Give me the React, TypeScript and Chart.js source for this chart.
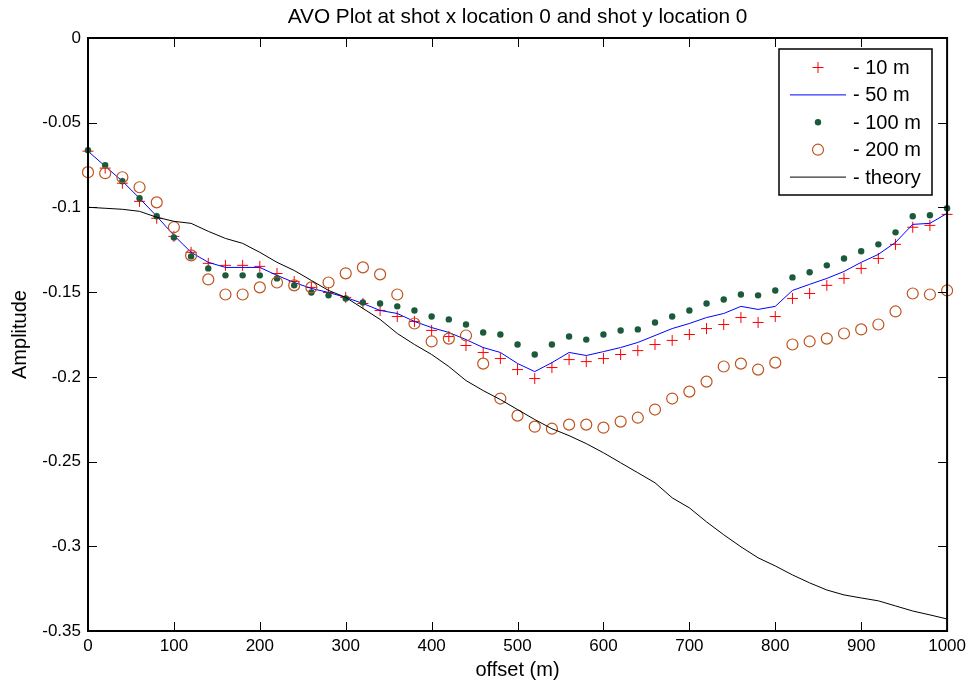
import { useEffect, useRef } from "react";
import { Chart, registerables } from "chart.js";

Chart.register(...registerables);

const offsets = [0, 20, 40, 60, 80, 100, 120, 140, 160, 180, 200, 220, 240, 260, 280, 300, 320, 340, 360, 380, 400, 420, 440, 460, 480, 500, 520, 540, 560, 580, 600, 620, 640, 660, 680, 700, 720, 740, 760, 780, 800, 820, 840, 860, 880, 900, 920, 940, 960, 980, 1000];

const amp10 = [-0.0668, -0.0768, -0.0857, -0.0964, -0.1064, -0.1171, -0.1265, -0.1330, -0.1342, -0.1342, -0.1348, -0.1390, -0.1437, -0.1472, -0.1502, -0.1531, -0.1567, -0.1608, -0.1644, -0.1673, -0.1726, -0.1762, -0.1815, -0.1856, -0.1892, -0.1957, -0.2010, -0.1945, -0.1898, -0.1910, -0.1892, -0.1868, -0.1845, -0.1809, -0.1785, -0.1750, -0.1715, -0.1691, -0.1650, -0.1679, -0.1644, -0.1537, -0.1508, -0.1460, -0.1419, -0.1360, -0.1301, -0.1218, -0.1117, -0.1106, -0.1041];

const amp50 = [-0.0668, -0.0757, -0.0845, -0.0946, -0.1052, -0.1165, -0.1265, -0.1324, -0.1354, -0.1354, -0.1354, -0.1401, -0.1443, -0.1478, -0.1502, -0.1531, -0.1567, -0.1608, -0.1626, -0.1673, -0.1709, -0.1738, -0.1780, -0.1827, -0.1856, -0.1921, -0.1969, -0.1916, -0.1856, -0.1874, -0.1851, -0.1827, -0.1797, -0.1756, -0.1715, -0.1685, -0.1650, -0.1626, -0.1584, -0.1602, -0.1584, -0.1490, -0.1454, -0.1419, -0.1378, -0.1324, -0.1277, -0.1206, -0.1100, -0.1094, -0.1035];

const amp100 = [-0.0662, -0.0751, -0.0845, -0.0946, -0.1052, -0.1177, -0.1289, -0.1360, -0.1401, -0.1401, -0.1401, -0.1419, -0.1460, -0.1502, -0.1519, -0.1537, -0.1561, -0.1567, -0.1584, -0.1608, -0.1644, -0.1661, -0.1691, -0.1738, -0.1750, -0.1809, -0.1868, -0.1809, -0.1762, -0.1780, -0.1750, -0.1726, -0.1720, -0.1679, -0.1644, -0.1608, -0.1567, -0.1543, -0.1514, -0.1519, -0.1490, -0.1413, -0.1383, -0.1342, -0.1301, -0.1259, -0.1218, -0.1147, -0.1052, -0.1046, -0.1005];

const amp200 = [-0.0792, -0.0798, -0.0822, -0.0881, -0.0970, -0.1117, -0.1283, -0.1425, -0.1514, -0.1514, -0.1472, -0.1443, -0.1460, -0.1472, -0.1443, -0.1389, -0.1354, -0.1395, -0.1514, -0.1685, -0.1791, -0.1774, -0.1756, -0.1922, -0.2128, -0.2229, -0.2294, -0.2306, -0.2282, -0.2282, -0.2300, -0.2264, -0.2241, -0.2193, -0.2128, -0.2087, -0.2028, -0.1939, -0.1922, -0.1957, -0.1916, -0.1809, -0.1791, -0.1774, -0.1744, -0.1720, -0.1691, -0.1614, -0.1508, -0.1514, -0.1490];

const ampTheory = [-0.0999, -0.1005, -0.1011, -0.1023, -0.1058, -0.1082, -0.1094, -0.1141, -0.1183, -0.1212, -0.1265, -0.1324, -0.1372, -0.1431, -0.1490, -0.1531, -0.1596, -0.1661, -0.1744, -0.1809, -0.1868, -0.1939, -0.2022, -0.2081, -0.2134, -0.2193, -0.2252, -0.2306, -0.2347, -0.2394, -0.2448, -0.2507, -0.2566, -0.2625, -0.2714, -0.2773, -0.2856, -0.2932, -0.3003, -0.3068, -0.3116, -0.3169, -0.3216, -0.3258, -0.3287, -0.3305, -0.3322, -0.3352, -0.3382, -0.3405, -0.3429];

const xTicks = [0, 100, 200, 300, 400, 500, 600, 700, 800, 900, 1000];
const yTicks = [0, -0.05, -0.1, -0.15, -0.2, -0.25, -0.3, -0.35];

const seriesLabels = ["- 10 m", "- 50 m", "- 100 m", "- 200 m", "- theory"];
const titleText = "AVO Plot at shot x location 0 and shot y location 0";
const xTitle = "offset (m)";
const yTitle = "Amplitude";

const FONT = "'Liberation Sans', Arial, sans-serif";
const RED = "#ff0000";
const BLUE = "#0000ff";
const GREEN = "#1b5a3a";
const ORANGE = "#c0531d";
const BLACK = "#000000";

const toXY = (ys: number[]) => offsets.map((x, i) => ({ x, y: ys[i] }));

const matlabPlugin = {
  id: "matlabBox",
  afterDatasetsDraw(chart: any) {
    const { ctx, chartArea, scales } = chart;
    const { left, right, top, bottom } = chartArea;
    const xs = scales.x;
    const ys = scales.y;
    ctx.save();
    ctx.strokeStyle = BLACK;
    // ticks (inward)
    ctx.lineWidth = 1;
    const tl = 9;
    ctx.beginPath();
    xTicks.forEach((v) => {
      const p = Math.round(xs.getPixelForValue(v)) + 0.5;
      ctx.moveTo(p, bottom);
      ctx.lineTo(p, bottom - tl);
      ctx.moveTo(p, top);
      ctx.lineTo(p, top + tl);
    });
    yTicks.forEach((v) => {
      const p = Math.round(ys.getPixelForValue(v)) + 0.5;
      ctx.moveTo(left, p);
      ctx.lineTo(left + tl, p);
      ctx.moveTo(right, p);
      ctx.lineTo(right - tl, p);
    });
    ctx.stroke();
    // box
    ctx.lineWidth = 2;
    ctx.strokeRect(left, top, right - left, bottom - top);

    // title centred over the plot box
    ctx.fillStyle = BLACK;
    ctx.font = `20.8px ${FONT}`;
    ctx.textAlign = "center";
    ctx.textBaseline = "middle";
    ctx.fillText(titleText, (left + right) / 2, 17);

    // legend
    const lx = 779, ly = 49, lw = 153, lh = 146;
    ctx.fillStyle = "#ffffff";
    ctx.fillRect(lx, ly, lw, lh);
    ctx.lineWidth = 1.5;
    ctx.strokeStyle = BLACK;
    ctx.strokeRect(lx, ly, lw, lh);
    const rows = [67.5, 94.9, 122.3, 149.7, 177.1];
    const mx = 818;
    ctx.font = `20px ${FONT}`;
    ctx.textBaseline = "middle";
    ctx.textAlign = "left";
    rows.forEach((ry, i) => {
      ctx.save();
      if (i === 0) {
        ctx.strokeStyle = RED;
        ctx.lineWidth = 1;
        ctx.beginPath();
        ctx.moveTo(mx - 5.5, ry);
        ctx.lineTo(mx + 5.5, ry);
        ctx.moveTo(mx, ry - 5.5);
        ctx.lineTo(mx, ry + 5.5);
        ctx.stroke();
      } else if (i === 1 || i === 4) {
        ctx.strokeStyle = i === 1 ? BLUE : BLACK;
        ctx.lineWidth = 1;
        ctx.beginPath();
        ctx.moveTo(790, ry);
        ctx.lineTo(846, ry);
        ctx.stroke();
      } else if (i === 2) {
        ctx.fillStyle = GREEN;
        ctx.beginPath();
        ctx.arc(mx, ry, 3.2, 0, Math.PI * 2);
        ctx.fill();
      } else {
        ctx.strokeStyle = ORANGE;
        ctx.lineWidth = 1.2;
        ctx.beginPath();
        ctx.arc(mx, ry, 5.5, 0, Math.PI * 2);
        ctx.stroke();
      }
      ctx.restore();
      ctx.fillStyle = BLACK;
      ctx.fillText(seriesLabels[i], 853, ry + 1);
    });
    ctx.restore();
  },
};

export default function App() {
  const ref = useRef<HTMLCanvasElement | null>(null);

  useEffect(() => {
    if (!ref.current) return;
    const tickFont = { family: FONT, size: 17 };
    const chart = new Chart(ref.current, {
      type: "line",
      data: {
        datasets: [
          {
            label: seriesLabels[0],
            data: toXY(amp10),
            showLine: false,
            pointStyle: "cross",
            pointRadius: 5.5,
            pointBorderColor: RED,
            pointBackgroundColor: RED,
            pointBorderWidth: 1,
            borderColor: RED,
            clip: false,
            order: 4,
          },
          {
            label: seriesLabels[1],
            data: toXY(amp50),
            borderColor: BLUE,
            borderWidth: 1,
            pointRadius: 0,
            tension: 0,
            clip: false,
            order: 3,
          },
          {
            label: seriesLabels[2],
            data: toXY(amp100),
            showLine: false,
            pointStyle: "circle",
            pointRadius: 3.2,
            pointBorderWidth: 0,
            pointBackgroundColor: GREEN,
            pointBorderColor: GREEN,
            borderColor: GREEN,
            clip: false,
            order: 2,
          },
          {
            label: seriesLabels[3],
            data: toXY(amp200),
            showLine: false,
            pointStyle: "circle",
            pointRadius: 5.5,
            pointBorderWidth: 1.2,
            pointBackgroundColor: "rgba(0,0,0,0)",
            pointBorderColor: ORANGE,
            borderColor: ORANGE,
            clip: false,
            order: 1,
          },
          {
            label: seriesLabels[4],
            data: toXY(ampTheory),
            borderColor: BLACK,
            borderWidth: 1,
            pointRadius: 0,
            tension: 0,
            clip: false,
            order: 0,
          },
        ],
      },
      options: {
        animation: false,
        responsive: false,
        events: [],
        layout: { padding: { left: 0, right: 23, top: 38, bottom: 0 } },
        plugins: {
          legend: { display: false },
          tooltip: { enabled: false },
          title: { display: false },
        },
        scales: {
          x: {
            type: "linear",
            min: 0,
            max: 1000,
            afterBuildTicks: (s: any) => {
              s.ticks = xTicks.map((v) => ({ value: v }));
            },
            afterFit: (s: any) => {
              s.height = 54;
            },
            grid: { display: false, drawTicks: false },
            border: { display: false },
            ticks: {
              color: BLACK,
              font: tickFont,
              padding: 5,
              maxRotation: 0,
              autoSkip: false,
              callback: (v: any) => String(v),
            },
            title: {
              display: true,
              text: xTitle,
              color: BLACK,
              font: { family: FONT, size: 20 },
              padding: { top: 0, bottom: 3 },
            },
          },
          y: {
            type: "linear",
            min: -0.35,
            max: 0,
            afterBuildTicks: (s: any) => {
              s.ticks = yTicks.map((v) => ({ value: v }));
            },
            afterFit: (s: any) => {
              s.width = 88;
            },
            grid: { display: false, drawTicks: false },
            border: { display: false },
            ticks: {
              color: BLACK,
              font: tickFont,
              padding: 7,
              autoSkip: false,
              callback: (v: any) => String(Number(Number(v).toFixed(2))),
            },
            title: {
              display: true,
              text: yTitle,
              color: BLACK,
              font: { family: FONT, size: 20 },
              padding: { top: 8, bottom: 0 },
            },
          },
        },
      },
      plugins: [matlabPlugin],
    } as any);
    return () => chart.destroy();
  }, []);

  return (
    <div style={{ position: "absolute", left: 0, top: 0, width: 971, height: 685, background: "#fff" }}>
      <canvas ref={ref} width={971} height={685} style={{ display: "block", width: 971, height: 685 }} />
    </div>
  );
}
